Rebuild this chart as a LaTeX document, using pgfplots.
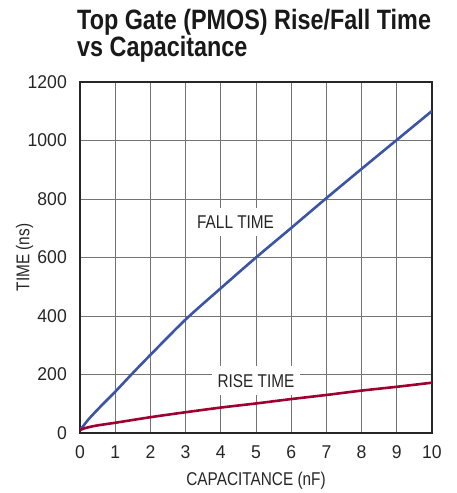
\documentclass[border=0pt]{standalone}
\usepackage{fontspec}
\setmainfont{Liberation Sans}[FakeStretch=0.83]
\newfontfamily\titlefont{Liberation Sans}[FakeStretch=0.835]
\newfontfamily\tickfont{Liberation Sans}[FakeStretch=0.95]
\usepackage{pgfplots}
\pgfplotsset{compat=1.18}
\definecolor{fallblue}{RGB}{59,84,166}
\definecolor{risered}{RGB}{158,0,48}
\begin{document}
\begin{tikzpicture}
\begin{axis}[
  at={(0pt,0pt)}, anchor=south west,
  scale only axis, width=352pt, height=351pt,
  xmin=0, xmax=10, ymin=0, ymax=1200,
  xtick={0,1,...,10}, ytick={0,200,...,1200},
  grid=major,
  major grid style={draw=black!55, line width=0.9pt},
  axis line style={draw=black!85, line width=1.3pt},
  tick style={draw=none},
  /pgf/number format/assume math mode=true,
  /pgf/number format/1000 sep={},
  ticklabel style={font=\tickfont\fontsize{18.5}{20}\selectfont, text=black!85},
  xticklabel style={anchor=north, inner sep=0pt, yshift=-12.7pt},
  yticklabel style={anchor=east, inner sep=0pt, xshift=-13pt},
  clip=true,
]
\addplot[draw=none, forget plot] coordinates {(0,0)};
\node[fill=white, inner xsep=7pt, inner ysep=8pt, text=black!85, font=\fontsize{18.5}{20}\selectfont] at (axis cs:4.42,721) {FALL TIME};
\node[fill=white, inner xsep=6pt, inner ysep=8pt, text=black!85, font=\fontsize{18.5}{20}\selectfont] at (axis cs:5.0,178) {RISE TIME};
\addplot[fallblue, line width=2.6pt, smooth] coordinates {
(0,10) (0.1,25) (0.25,48) (0.5,80) (0.75,111) (1,141) (1.5,205) (2,267) (3,388) (4,495) (5,600) (6,701) (7,803) (8,903) (9,1002) (10,1101)
};
\addplot[risered, line width=2.6pt, smooth] coordinates {
(0,10) (0.1,15) (0.25,20) (0.5,26) (1,35) (2,54) (3,71) (4,87) (5,101) (6,116) (7,130) (8,145) (9,158) (10,172)
};
\end{axis}
\node[anchor=base, text=black!85, font=\fontsize{18.5}{20}\selectfont] at (176pt,-52pt) {CAPACITANCE (nF)};
\node[anchor=base, rotate=90, text=black!85, font=\fontsize{18.5}{20}\selectfont] at (-50.5pt,175.5pt) {TIME (ns)};
\node[anchor=base west, inner sep=0pt, text=black!90, font=\titlefont\bfseries\fontsize{28}{29}\selectfont] at (-3pt,403pt) {Top Gate (PMOS) Rise/Fall Time};
\node[anchor=base west, inner sep=0pt, text=black!90, font=\titlefont\bfseries\fontsize{28}{29}\selectfont] at (-3pt,376pt) {vs Capacitance};
\pgfresetboundingbox
\path[use as bounding box] (-80pt,-60pt) rectangle (376pt,433pt);
\end{tikzpicture}
\end{document}
